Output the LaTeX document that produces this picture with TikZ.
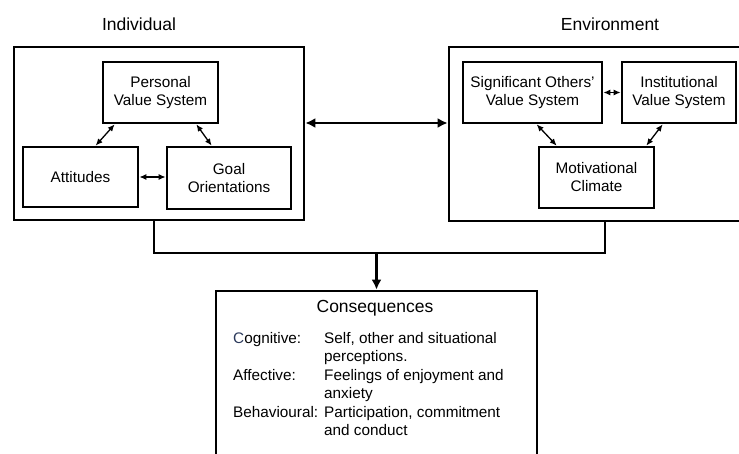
\documentclass[tikz,border=0pt]{standalone}
\usepackage{fontspec}
\setmainfont{Liberation Sans}
\usetikzlibrary{arrows.meta}
\definecolor{inkblue}{RGB}{44,58,92}
\tikzset{
  panel/.style={draw, line width=2.7pt, rectangle, inner sep=0pt},
  factor/.style={draw, line width=2.7pt, rectangle, inner sep=0pt, align=center,
    font=\fontsize{15.3}{18}\selectfont},
  heading/.style={font=\fontsize{17.5}{20}\selectfont, inner sep=0pt},
  pair/.style={line width=1.3pt, {Latex[length=7pt,width=6pt]}-{Latex[length=7pt,width=6pt]}},
  bigpair/.style={line width=2.5pt, {Latex[length=10pt,width=10pt]}-{Latex[length=10pt,width=10pt]}},
  link/.style={line width=2.7pt},
  flow/.style={line width=2.7pt, -{Latex[length=10pt,width=10pt]}},
  body/.style={font=\fontsize{15.3}{18.5}\selectfont, inner sep=0pt, anchor=base west, align=left}
}
\begin{document}
\begin{tikzpicture}[x=1pt,y=-1pt]
\useasboundingbox (0,0) rectangle (739,454);
\clip (0,0) rectangle (739,454);

% group headings
\node[heading] (indlabel) at (139,24) {Individual};
\node[heading] (envlabel) at (610,24) {Environment};

% individual side
\node[panel, minimum width=290pt, minimum height=173pt] (ind) at (159,133.5) {};
\node[factor, minimum width=115pt, minimum height=61pt] (pvs) at (160.5,92.5) {Personal\\Value System};
\node[factor, minimum width=115pt, minimum height=60pt] (att) at (80.5,177) {Attitudes};
\node[factor, minimum width=124pt, minimum height=62pt] (goal) at (229,178) {Goal\\Orientations};

% environment side
\node[panel, minimum width=320pt, minimum height=174pt] (env) at (609,134) {};
\node[factor, minimum width=139pt, minimum height=61pt] (so) at (532.5,92.5) {Significant Others'\\Value System};
\node[factor, minimum width=114pt, minimum height=61pt] (inst) at (679,92.5) {Institutional\\Value System};
\node[factor, minimum width=115pt, minimum height=61pt] (mc) at (596.5,177.5) {Motivational\\Climate};

% outcomes
\node[panel, minimum width=321pt, minimum height=185pt] (cons) at (376.5,383.5) {};
\node[heading] (constitle) at (375,308) {Consequences};

% links inside the individual panel
\draw[pair] ([xshift=13pt]pvs.south west) -- ([xshift=74pt]att.north west);
\draw[pair] ([xshift=-23pt]pvs.south east) -- ([xshift=46pt]goal.north west);
\draw[pair] (att.east) -- (att.east -| goal.west);

% links inside the environment panel
\draw[pair] (so.east) -- (inst.west);
\draw[pair] ([xshift=75pt]so.south west) -- ([xshift=19pt]mc.north west);
\draw[pair] ([xshift=42pt]inst.south west) -- ([xshift=-9pt]mc.north east);

% individual <-> environment
\draw[bigpair] ([yshift=10.5pt]ind.east) -- ([yshift=10.5pt]ind.east -| env.west);

% both panels feed the outcomes
\coordinate (merge) at (cons.north |- 0,253);
\draw[link] ([xshift=-5pt]ind.south) |- (merge) -| ([xshift=-4pt]env.south);
\draw[flow] (merge) -- (cons.north);

% outcome categories
\node[body] (cogl) at (233,343) {\textcolor{inkblue}{C}ognitive:};
\node[body] (cogd) at (324,343) {Self, other and situational};
\node[body] (cogd2) at (324,361.5) {perceptions.};
\node[body] (affl) at (233,380) {Affective:};
\node[body] (affd) at (324,380) {Feelings of enjoyment and};
\node[body] (affd2) at (324,398.5) {anxiety};
\node[body] (behl) at (233,417) {Behavioural:};
\node[body] (behd) at (324,417) {Participation, commitment};
\node[body] (behd2) at (324,435.5) {and conduct};
\end{tikzpicture}
\end{document}
